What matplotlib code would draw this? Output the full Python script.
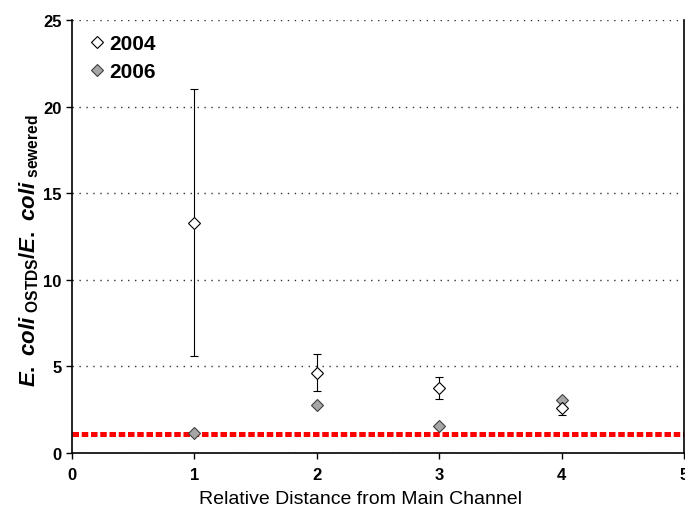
import numpy as np
import matplotlib
matplotlib.use('Agg')
import matplotlib.pyplot as plt

plt.rcParams['font.family'] = ['Liberation Sans', 'DejaVu Sans']
plt.rcParams['mathtext.fontset'] = 'custom'
plt.rcParams['mathtext.rm'] = 'Liberation Sans:bold'
plt.rcParams['mathtext.it'] = 'Liberation Sans:italic:bold'
plt.rcParams['mathtext.bf'] = 'Liberation Sans:bold'

# data
dist = [1, 2, 3, 4]
ratio_2004 = [13.25, 4.6, 3.75, 2.6]
err_lo_2004 = [5.6, 3.6, 3.1, 2.2]
err_hi_2004 = [21.0, 5.7, 4.4, 3.0]
ratio_2006 = [1.15, 2.75, 1.55, 3.05]
ref_level = 1.1

yerr = [np.array(ratio_2004) - np.array(err_lo_2004),
        np.array(err_hi_2004) - np.array(ratio_2004)]

fig = plt.figure(figsize=(6.85, 5.10), dpi=100)
ax = fig.add_axes([0.105, 0.11, 0.8935, 0.849])

ax.plot([0, 5], [ref_level, ref_level], color='#ff0000', lw=3.6,
        linestyle=(0, (1.3, 0.55)), zorder=1)

ax.errorbar(dist, ratio_2004, yerr=yerr, fmt='none', ecolor='black',
            elinewidth=0.8, capsize=3, capthick=0.8, zorder=2)
ax.plot(dist, ratio_2004, 'D', ms=6, mfc='white', mec='black', mew=0.8,
        label='2004', zorder=4)
ax.plot(dist, ratio_2006, 'D', ms=6, mfc='#a6a6a6', mec='#404040', mew=0.8,
        label='2006', zorder=3)

ax.set_xlim(0, 5)
ax.set_ylim(0, 25)
ax.set_xticks([0, 1, 2, 3, 4, 5])
ax.set_yticks([0, 5, 10, 15, 20, 25])
ax.tick_params(axis='both', direction='out', length=4, width=1,
               labelsize=12)
ax.tick_params(axis='x', pad=6)
for lab in ax.get_xticklabels() + ax.get_yticklabels():
    lab.set_fontweight('bold')
ax.yaxis.grid(True, linestyle=(0, (1, 4)), color='#333333', lw=1.0)
ax.set_axisbelow(True)
ax.spines['top'].set_visible(False)
for s in ['left', 'bottom', 'right']:
    ax.spines[s].set_linewidth(1.2)

ax.set_xlabel('Relative Distance from Main Channel', fontsize=14)
ax.xaxis.set_label_coords(0.472, -0.085)
ax.set_ylabel(r'$\mathit{E.\ coli}_{\ \mathrm{OSTDS}}\mathit{/E.\ coli}_{\ \mathrm{sewered}}$',
              fontsize=16)
ax.yaxis.set_label_coords(-0.05, 0.47)

ax.legend(loc='upper left', frameon=False, prop={'size': 15, 'weight': 'bold'},
          handletextpad=0.1, labelspacing=0.4, borderaxespad=0.3,
          handlelength=1.0)

fig.savefig('out.png', dpi=100)
